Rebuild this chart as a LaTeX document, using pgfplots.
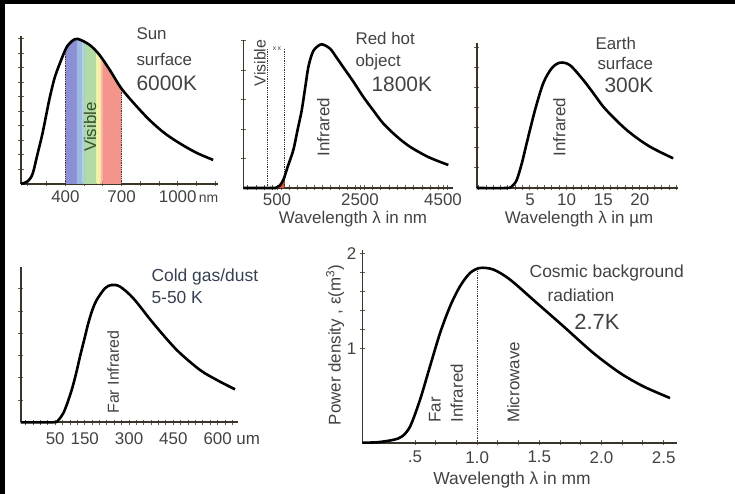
\documentclass[border=0pt]{standalone}
\usepackage{fontspec}
\setmainfont{Liberation Sans}
\usepackage{pgfplots}
\pgfplotsset{compat=1.18}

\definecolor{axiscol}{RGB}{58,52,42}
\definecolor{tickcol}{RGB}{105,92,70}
\definecolor{txt}{RGB}{66,66,66}
\definecolor{slate}{RGB}{55,64,82}
\definecolor{olive}{RGB}{55,80,40}
\definecolor{vviolet}{RGB}{140,143,210}
\definecolor{vblue}{RGB}{158,186,228}
\definecolor{vcyan}{RGB}{170,212,200}
\definecolor{vgreen}{RGB}{181,219,165}
\definecolor{vyellow}{RGB}{244,240,164}
\definecolor{vorange}{RGB}{246,190,150}
\definecolor{vred}{RGB}{244,149,140}
\definecolor{redglow}{RGB}{226,80,60}

\newcommand{\fs}[1]{\fontsize{#1}{#1}\selectfont}

\pgfplotsset{
  panel/.style={
    scale only axis,
    axis x line=bottom, axis y line=left,
    axis line style={-, axiscol, line width=1.6bp},
    tick style={tickcol, line width=1bp},
    tick align=center,
    major tick length=5bp, minor tick length=5bp,
    enlargelimits=false, clip=false,
    ymin=0,
    ticklabel style={font=\fs{17}, text=txt},
  },
  curve/.style={black, line width=2.6bp, smooth},
  band/.style={draw=none, fill=#1},
}

\begin{document}
\begin{tikzpicture}
\path[use as bounding box] (0,0) rectangle (735bp,494bp);
\fill[black] (0,490bp) rectangle (735bp,494bp);
\fill[black] (0,0) rectangle (5bp,494bp);

% ---------- Sun surface, 6000 K ----------
\begin{axis}[panel, at={(21bp,310bp)}, anchor=south west,
  width=197bp, height=148bp,
  xmin=163, xmax=1215, ymax=1.02,
  xtick={400,700,1000},
  xticklabels={400,700,1000\rlap{\fs{14}\,nm}},
  minor xtick={200,300,...,1200},
  ytick={0.1,0.2,...,1.0}, yticklabels={},
  xticklabel style={yshift=-1bp}]
  % visible band, violet to red
  \addplot[band=vviolet] coordinates {(400,0.923) (404,0.936) (435,0.985) (462,0.998)} \closedcycle;
  \addplot[band=vblue]   coordinates {(462,0.998) (466,1.0) (492,0.983)} \closedcycle;
  \addplot[band=vcyan]   coordinates {(492,0.983) (510,0.971)} \closedcycle;
  \addplot[band=vgreen]  coordinates {(510,0.971) (529,0.959) (566,0.911)} \closedcycle;
  \addplot[band=vyellow] coordinates {(566,0.911) (582,0.89) (588,0.879)} \closedcycle;
  \addplot[band=vorange] coordinates {(588,0.879) (598,0.86)} \closedcycle;
  \addplot[band=vred]    coordinates {(598,0.86) (640,0.78) (698,0.66) (700,0.657)} \closedcycle;
  \addplot[densely dotted, axiscol, line width=0.8bp] coordinates {(400,0) (400,0.93)};
  \addplot[densely dotted, axiscol, line width=0.8bp] coordinates {(700,0) (700,0.66)};
  \addplot[curve] coordinates {
    (163,0) (200,0.02) (225,0.07) (250,0.2) (278,0.35) (314,0.58)
    (340,0.72) (364,0.81) (404,0.936) (435,0.985) (466,1.0) (529,0.959)
    (582,0.89) (640,0.78) (698,0.66) (770,0.55) (850,0.44) (930,0.35)
    (1011,0.28) (1100,0.215) (1189,0.166)};
\end{axis}
\node[rotate=90, font=\fs{17}, text=olive] at (90bp,367bp) {Visible};
\node[anchor=west, font=\fs{17}, text=txt] at (133bp,460bp) {Sun};
\node[anchor=west, font=\fs{17}, text=txt] at (133bp,435bp) {surface};
\node[anchor=west, font=\fs{21}, text=txt] at (133bp,411bp) {6000K};

% ---------- Red hot object, 1800 K ----------
\begin{axis}[panel, at={(243.3bp,306bp)}, anchor=south west,
  width=209.7bp, height=148bp,
  xmin=-312, xmax=4741, ymax=1.03,
  xtick={500,2500,4500}, xticklabels={500,2500,4500},
  minor xtick={-200,0,...,4600},
  ytick={0.205,0.41,0.615,0.82,1.025}, yticklabels={}]
  \addplot[band=redglow] coordinates {(500,0.005) (560,0.015) (652,0.056) (690,0.089)} \closedcycle;
  \addplot[densely dotted, axiscol, line width=0.8bp] coordinates {(280,0) (280,0.97)};
  \addplot[densely dotted, axiscol, line width=0.8bp] coordinates {(690,0) (690,0.97)};
  \addplot[curve] coordinates {
    (-312,0) (404,0) (480,0.002) (560,0.015) (652,0.056) (760,0.15)
    (893,0.264) (1000,0.41) (1095,0.54) (1180,0.70) (1254,0.84)
    (1340,0.93) (1416,0.97) (1577,1.0) (1777,0.97) (1930,0.91)
    (2098,0.84) (2340,0.74) (2580,0.634) (2820,0.54) (3061,0.449)
    (3380,0.36) (3705,0.287) (4150,0.215) (4628,0.16)};
\end{axis}
\node[rotate=90, font=\fs{16}, text=txt] at (260bp,431bp) {Visible};
\node[font=\fs{7}, text=txt] at (277bp,445bp) {x\,x};
\node[rotate=90, font=\fs{17}, text=txt] at (323.3bp,367bp) {Infrared};
\node[anchor=west, font=\fs{17}, text=txt] at (352bp,456bp) {Red hot};
\node[anchor=west, font=\fs{17}, text=txt] at (352bp,432bp) {object};
\node[anchor=west, font=\fs{21}, text=txt] at (368bp,410bp) {1800K};
\node[inner sep=1bp, font=\fs{17}, text=txt] at (353bp,274.5bp) {Wavelength λ in nm};

% ---------- Earth surface, 300 K ----------
\begin{axis}[panel, at={(476.7bp,306bp)}, anchor=south west,
  width=201.3bp, height=145bp,
  xmin=-2.27, xmax=25.2, ymax=1.157,
  xtick={5,10,15,20}, xticklabels={5,10,15,20},
  minor xtick={-2,-1,...,25},
  ytick={0.16,0.32,...,1.13}, yticklabels={}]
  \addplot[curve] coordinates {
    (-2.27,0) (1.82,0) (2.5,0.012) (3.19,0.064) (3.9,0.2) (4.55,0.357)
    (5.68,0.62) (6.81,0.836) (7.96,0.955) (9.09,1.0) (10.45,0.98)
    (12.27,0.862) (13.6,0.76) (15.0,0.649) (16.6,0.55) (18.19,0.463)
    (19.8,0.39) (21.36,0.33) (23,0.28) (24.54,0.237)};
\end{axis}
\node[rotate=90, font=\fs{17}, text=txt] at (559.3bp,367bp) {Infrared};
\node[anchor=west, font=\fs{17}, text=txt] at (592bp,451bp) {Earth};
\node[anchor=west, font=\fs{17}, text=txt] at (594bp,431bp) {surface};
\node[anchor=west, font=\fs{21}, text=txt] at (601bp,409bp) {300K};
\node[inner sep=1bp, font=\fs{17}, text=txt] at (579bp,274.5bp) {Wavelength λ in µm};

% ---------- Cold gas / dust, 5-50 K ----------
\begin{axis}[panel, at={(20.7bp,71.7bp)}, anchor=south west,
  width=217.6bp, height=155.6bp,
  xmin=-67, xmax=670, ymax=1.133,
  xtick={50,150,300,450,600}, xticklabels={50,150,300,450,600\rlap{ um}},
  minor xtick={-50,-25,...,650},
  ytick={0.162,0.324,...,1.13}, yticklabels={},
  xticklabel style={yshift=-4bp}]
  \addplot[curve] coordinates {
    (-67,0) (43.4,0) (60,0.015) (77.2,0.066) (91,0.14) (105.7,0.235)
    (120,0.35) (133.8,0.478) (148,0.6) (161.9,0.721) (176,0.82)
    (190.4,0.891) (218.5,0.976) (241.2,1.0) (269.3,0.988) (314.4,0.903)
    (382.1,0.721) (461.4,0.527) (540.3,0.381) (600,0.305) (658.9,0.240)};
\end{axis}
\node[rotate=90, font=\fs{16}, text=txt] at (113.3bp,122bp) {Far Infrared};
\node[anchor=west, font=\fs{17.5}, text=slate] at (148bp,217bp) {Cold gas/dust};
\node[anchor=west, font=\fs{17.5}, text=slate] at (148bp,196bp) {5-50 K};

% ---------- Cosmic background radiation, 2.7 K ----------
\begin{axis}[panel, at={(362.3bp,51.3bp)}, anchor=south west,
  width=314.4bp, height=192.7bp,
  xmin=0.076, xmax=2.605, ymax=2.04,
  xtick={0.5,1.0,1.5,2.0,2.5}, xticklabels={.5,1.0,1.5,2.0,2.5},
  minor x tick num=2,
  ytick={1,2}, yticklabels={1,2}, minor y tick num=4,
  xticklabel style={yshift=-2.5bp}]
  \addplot[densely dotted, axiscol, line width=0.8bp] coordinates {(1.0,0) (1.0,1.84)};
  \addplot[curve] coordinates {
    (0.076,0) (0.2,0.005) (0.325,0.03) (0.393,0.064) (0.46,0.17)
    (0.54,0.453) (0.62,0.806) (0.701,1.159) (0.782,1.444) (0.862,1.656)
    (0.943,1.797) (1.023,1.85) (1.13,1.833) (1.264,1.727) (1.479,1.48)
    (1.693,1.233) (1.934,0.95) (2.149,0.738) (2.337,0.596) (2.551,0.473)};
\end{axis}
\node[rotate=90, font=\fs{17}, text=txt] at (335bp,149bp) {Power density , ε(m\textsuperscript{3})};
\node[rotate=90, anchor=west, font=\fs{17}, text=txt] at (435bp,68bp) {Far};
\node[rotate=90, anchor=west, font=\fs{17}, text=txt] at (456.7bp,68bp) {Infrared};
\node[rotate=90, font=\fs{17}, text=txt] at (513.3bp,111.5bp) {Microwave};
\node[font=\fs{17.5}, text=txt] at (606.7bp,220.7bp) {Cosmic background};
\node[font=\fs{17.5}, text=txt] at (581bp,199bp) {radiation};
\node[font=\fs{22}, text=txt] at (597bp,172.3bp) {2.7K};
\node[font=\fs{17.5}, text=txt] at (512bp,14bp) {Wavelength λ in mm};
\end{tikzpicture}
\end{document}
